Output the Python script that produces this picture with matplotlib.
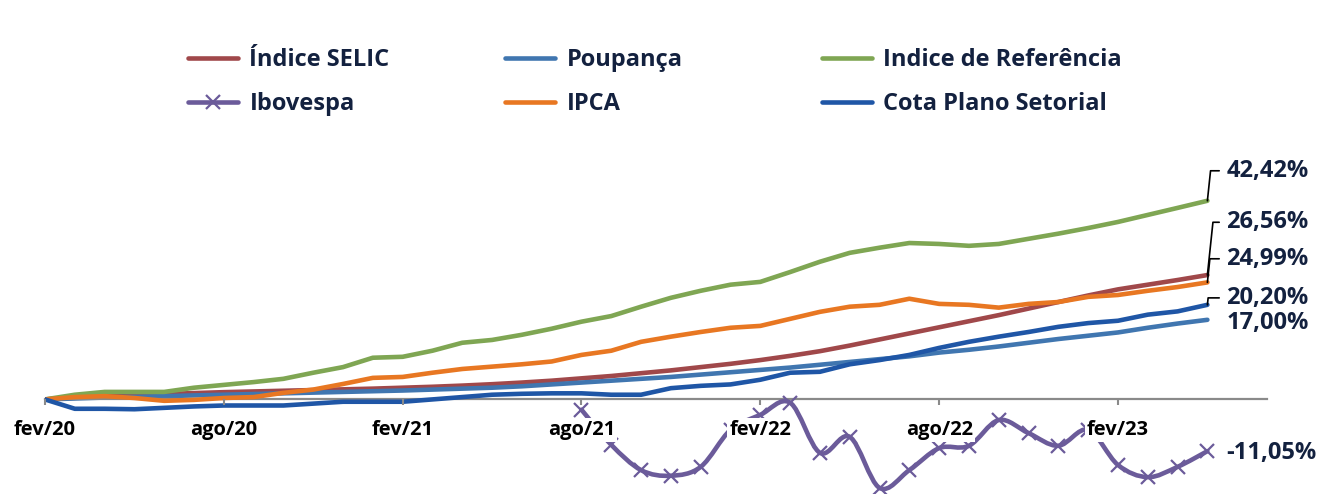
import numpy as np
import matplotlib.pyplot as plt
from matplotlib.path import Path
from matplotlib.patches import PathPatch
from matplotlib.lines import Line2D

plt.rcParams['font.family'] = ['Open Sans', 'DejaVu Sans']

# monthly index: 0 = fev/20 ... 39 = mai/23
months = np.arange(40)
tick_pos = [0, 6, 12, 18, 24, 30, 36]
tick_labels = ["fev/20", "ago/20", "fev/21", "ago/21", "fev/22", "ago/22", "fev/23"]

# accumulated returns (%)
selic = [0, 0.35, 0.65, 0.9, 1.15, 1.35, 1.55, 1.7, 1.85, 2.0,
         2.15, 2.3, 2.5, 2.7, 2.95, 3.25, 3.6, 4.0, 4.5, 5.0,
         5.6, 6.2, 6.9, 7.6, 8.4, 9.3, 10.3, 11.5, 12.8, 14.1,
         15.4, 16.7, 18.0, 19.4, 20.8, 22.2, 23.5, 24.5, 25.5, 26.56]
poupanca = [0, 0.2, 0.4, 0.55, 0.7, 0.85, 1.0, 1.15, 1.3, 1.45,
            1.6, 1.75, 1.9, 2.1, 2.3, 2.5, 2.8, 3.2, 3.6, 4.0,
            4.4, 4.8, 5.3, 5.8, 6.3, 6.8, 7.4, 8.0, 8.6, 9.2,
            10.0, 10.6, 11.3, 12.1, 12.9, 13.6, 14.3, 15.3, 16.2, 17.0]
referencia = [0, 1.0, 1.6, 1.6, 1.6, 2.5, 3.1, 3.7, 4.4, 5.7,
              6.9, 8.9, 9.1, 10.4, 12.1, 12.7, 13.8, 15.1, 16.6, 17.8,
              19.8, 21.7, 23.2, 24.5, 25.1, 27.2, 29.4, 31.3, 32.4, 33.4,
              33.2, 32.8, 33.2, 34.3, 35.4, 36.6, 37.9, 39.4, 40.9, 42.42]
ibovespa = [np.nan] * 18 + [-2.2, -9.7, -15.1, -16.3, -14.4, -6.5, -3.3, -0.7,
                            -11.4, -8.0, -18.9, -15.1, -10.4, -9.9, -4.4, -7.2,
                            -9.9, -6.5, -14.0, -16.6, -14.4, -11.05]
ipca = [0, 0.5, 0.7, 0.3, -0.3, -0.1, 0.3, 0.5, 1.4, 2.1,
        3.3, 4.6, 4.8, 5.7, 6.5, 7.0, 7.5, 8.1, 9.5, 10.4,
        12.3, 13.4, 14.4, 15.3, 15.7, 17.2, 18.7, 19.8, 20.2, 21.5,
        20.4, 20.2, 19.6, 20.4, 20.8, 21.9, 22.3, 23.2, 24.0, 24.99]
cota = [0, -2.0, -2.0, -2.1, -1.8, -1.5, -1.3, -1.3, -1.3, -0.9,
        -0.5, -0.5, -0.5, 0.0, 0.5, 1.0, 1.2, 1.3, 1.3, 1.0,
        1.0, 2.4, 2.9, 3.2, 4.2, 5.7, 5.9, 7.5, 8.4, 9.5,
        11.0, 12.3, 13.4, 14.4, 15.5, 16.3, 16.8, 18.1, 18.8, 20.2]

navy = "#13213f"
c_selic = "#a0484a"
c_poup = "#4076b0"
c_ref = "#7fa653"
c_ibov = "#6b5b9a"
c_ipca = "#e87722"
c_cota = "#1f56a6"

fig = plt.figure(figsize=(13.17, 4.94), dpi=100)
ax = fig.add_axes([45 / 1317, 0, 1222 / 1317, 354 / 494])

lw = 3.3
kw = dict(lw=lw, solid_capstyle="round", solid_joinstyle="round")
h_selic, = ax.plot(months, selic, color=c_selic, label="Índice SELIC", zorder=2, **kw)
h_poup, = ax.plot(months, poupanca, color=c_poup, label="Poupança", zorder=2, **kw)
h_ref, = ax.plot(months, referencia, color=c_ref, label="Indice de Referência", zorder=2, **kw)

# Ibovespa drawn as a smoothed curve through the monthly points
ib = np.array(ibovespa)
ok = ~np.isnan(ib)
px = months[ok].astype(float)
py = ib[ok]
verts = [(px[0], py[0])]
codes = [Path.MOVETO]
n = len(px)
for k in range(n - 1):
    p0 = (px[max(k - 1, 0)], py[max(k - 1, 0)])
    p1 = (px[k], py[k])
    p2 = (px[k + 1], py[k + 1])
    p3 = (px[min(k + 2, n - 1)], py[min(k + 2, n - 1)])
    c1 = (p1[0] + (p2[0] - p0[0]) / 6, p1[1] + (p2[1] - p0[1]) / 6)
    c2 = (p2[0] - (p3[0] - p1[0]) / 6, p2[1] - (p3[1] - p1[1]) / 6)
    verts += [c1, c2, p2]
    codes += [Path.CURVE4] * 3
ax.add_patch(PathPatch(Path(verts, codes), facecolor="none", edgecolor=c_ibov,
                       lw=lw, capstyle="round", joinstyle="round", zorder=3))
ax.plot(px, py, linestyle="none", marker="x", ms=10, mew=1.6, color=c_ibov, zorder=3)
h_ibov = Line2D([], [], color=c_ibov, lw=lw, marker="x", ms=10, mew=1.6,
                solid_capstyle="round", label="Ibovespa")

h_ipca, = ax.plot(months, ipca, color=c_ipca, label="IPCA", zorder=3, **kw)
h_cota, = ax.plot(months, cota, color=c_cota, label="Cota Plano Setorial", zorder=3, **kw)

ax.set_xlim(0, 41)
ax.set_ylim(-20.2, 55.4)
for s in ["top", "right", "left"]:
    ax.spines[s].set_visible(False)
ax.spines["bottom"].set_position(("data", 0))
ax.spines["bottom"].set_color("#8a8a8a")
ax.spines["bottom"].set_linewidth(1.6)
ax.spines["bottom"].set_zorder(2.5)
ax.set_yticks([])
ax.set_xticks(tick_pos)
ax.set_xticklabels(tick_labels, fontsize=14.5, fontweight="bold", color="black")
ax.tick_params(axis="x", direction="out", length=4, width=1.5, color="#8a8a8a", pad=11)
for t in ax.get_xticklabels():
    t.set_bbox(dict(facecolor="white", edgecolor="none", pad=1.5))
ax.xaxis.set_zorder(4)

# end-of-series labels
ends = [
    (referencia[-1], 21.6, True),
    (selic[-1], 38, True),
    (ipca[-1], 17, True),
    (cota[-1], 5, True),
    (poupanca[-1], -2, False),
    (ibovespa[-1], -1.5, False),
]
for val, dy, leader in ends:
    txt = f"{val:.2f}%".replace(".", ",")
    props = None
    if leader:
        props = dict(arrowstyle="-", color="black", lw=1.2,
                     connectionstyle="angle,angleA=0,angleB=84,rad=0",
                     shrinkA=3, shrinkB=0)
    ax.annotate(txt, xy=(months[-1], val), xytext=(13.5, dy), textcoords="offset points",
                ha="left", va="center", fontsize=17, fontweight="bold", color=navy,
                arrowprops=props, annotation_clip=False, zorder=5)

# legend: three columns of two entries
cols = [(h_selic, h_ibov), (h_poup, h_ipca), (h_ref, h_cota)]
col_x = [188, 505, 822]
for handles, x in zip(cols, col_x):
    leg = fig.legend(handles=list(handles), loc="upper left",
                     bbox_to_anchor=(x / 1317, 1 - 48 / 494), frameon=False,
                     prop=dict(size=17, weight="bold"), handlelength=2.1,
                     handletextpad=0.5, labelspacing=0.84, borderpad=0,
                     borderaxespad=0)
    for t in leg.get_texts():
        t.set_color(navy)

fig.savefig("out.png", dpi=100)
